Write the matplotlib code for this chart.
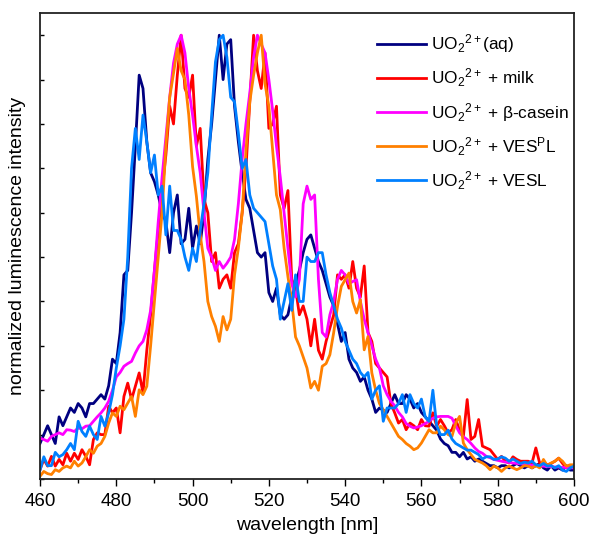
import numpy as np
import matplotlib
matplotlib.use("Agg")
import matplotlib.pyplot as plt
from matplotlib.ticker import MultipleLocator

plt.rcParams['font.family'] = ['Liberation Sans', 'DejaVu Sans']
plt.rcParams['mathtext.fontset'] = 'custom'
plt.rcParams['mathtext.rm'] = 'Liberation Sans'
plt.rcParams['mathtext.it'] = 'Liberation Sans:italic'
plt.rcParams['mathtext.bf'] = 'Liberation Sans:bold'

wavelength = np.arange(460, 601, 1)

aq = [0.08, 0.10, 0.12, 0.10, 0.08, 0.14, 0.12, 0.14, 0.16, 0.15,
      0.17, 0.16, 0.14, 0.17, 0.17, 0.18, 0.19, 0.18, 0.21, 0.27,
      0.26, 0.33, 0.46, 0.47, 0.60, 0.75, 0.91, 0.88, 0.76, 0.69,
      0.67, 0.64, 0.60, 0.58, 0.51, 0.60, 0.64, 0.53, 0.54, 0.61,
      0.52, 0.57, 0.53, 0.60, 0.72, 0.80, 0.90, 1.00, 0.90, 0.98,
      0.99, 0.84, 0.76, 0.69, 0.63, 0.61, 0.56, 0.51, 0.50, 0.51,
      0.42, 0.40, 0.43, 0.37, 0.36, 0.37, 0.41, 0.44, 0.47, 0.51,
      0.54, 0.55, 0.52, 0.49, 0.47, 0.44, 0.41, 0.39, 0.35, 0.31,
      0.33, 0.27, 0.25, 0.24, 0.22, 0.23, 0.20, 0.18, 0.15, 0.16,
      0.155, 0.15, 0.17, 0.19, 0.17, 0.17, 0.19, 0.18, 0.16, 0.17,
      0.15, 0.14, 0.13, 0.12, 0.11, 0.09, 0.08, 0.075, 0.06, 0.06,
      0.05, 0.06, 0.045, 0.05, 0.04, 0.045, 0.04, 0.035, 0.03, 0.03,
      0.025, 0.03, 0.03, 0.025, 0.03, 0.035, 0.03, 0.025, 0.03, 0.025,
      0.03, 0.035, 0.025, 0.02, 0.03, 0.02, 0.025, 0.02, 0.03, 0.02,
      0.02]

milk = [0.021, 0.044, 0.029, 0.051, 0.029, 0.044, 0.032, 0.058, 0.04, 0.058,
        0.044, 0.066, 0.051, 0.032, 0.089, 0.104, 0.10, 0.10, 0.164, 0.149,
        0.16, 0.104, 0.186, 0.216, 0.179, 0.209, 0.239, 0.194, 0.29, 0.37,
        0.47, 0.56, 0.65, 0.73, 0.84, 0.80, 0.91, 1.00, 0.88, 0.86,
        0.91, 0.75, 0.79, 0.63, 0.60, 0.49, 0.51, 0.43, 0.45, 0.46,
        0.43, 0.51, 0.53, 0.60, 0.70, 0.85, 1.00, 0.92, 0.88, 0.96,
        0.79, 0.80, 0.84, 0.64, 0.61, 0.65, 0.45, 0.43, 0.37, 0.39,
        0.36, 0.30, 0.36, 0.29, 0.27, 0.31, 0.34, 0.37, 0.46, 0.45,
        0.46, 0.43, 0.49, 0.43, 0.41, 0.48, 0.33, 0.31, 0.26, 0.25,
        0.24, 0.23, 0.17, 0.149, 0.126, 0.134, 0.111, 0.126, 0.12, 0.111,
        0.134, 0.12, 0.119, 0.149, 0.119, 0.134, 0.12, 0.104, 0.111, 0.134,
        0.11, 0.096, 0.179, 0.089, 0.096, 0.134, 0.074, 0.07, 0.066, 0.055,
        0.044, 0.051, 0.04, 0.036, 0.05, 0.044, 0.04, 0.04, 0.04, 0.036,
        0.07, 0.036, 0.036, 0.032, 0.035, 0.04, 0.047, 0.035, 0.025, 0.03,
        0.03]

casein = [0.092, 0.089, 0.085, 0.096, 0.10, 0.104, 0.10, 0.111, 0.11, 0.107,
          0.115, 0.113, 0.119, 0.12, 0.13, 0.14, 0.149, 0.16, 0.175, 0.20,
          0.23, 0.24, 0.254, 0.26, 0.265, 0.284, 0.30, 0.31, 0.336, 0.38,
          0.47, 0.58, 0.68, 0.77, 0.86, 0.937, 0.98, 1.00, 0.96, 0.88,
          0.82, 0.75, 0.69, 0.60, 0.52, 0.50, 0.47, 0.49, 0.475, 0.486,
          0.50, 0.54, 0.62, 0.72, 0.80, 0.87, 0.95, 1.00, 0.98, 0.96,
          0.90, 0.83, 0.75, 0.68, 0.60, 0.52, 0.44, 0.41, 0.45, 0.62,
          0.66, 0.63, 0.64, 0.45, 0.33, 0.32, 0.37, 0.40, 0.45, 0.47,
          0.46, 0.44, 0.445, 0.449, 0.40, 0.36, 0.33, 0.30, 0.27, 0.25,
          0.21, 0.19, 0.175, 0.165, 0.15, 0.14, 0.125, 0.119, 0.115, 0.117,
          0.12, 0.125, 0.13, 0.137, 0.14, 0.141, 0.141, 0.141, 0.137, 0.12,
          0.104, 0.095, 0.089, 0.08, 0.07, 0.062, 0.058, 0.051, 0.048, 0.044,
          0.042, 0.04, 0.038, 0.037, 0.036, 0.035, 0.034, 0.033, 0.032, 0.031,
          0.03, 0.029, 0.029, 0.028, 0.028, 0.027, 0.027, 0.026, 0.026, 0.025,
          0.025]

vespl = [0.006, 0.017, 0.012, 0.01, 0.021, 0.017, 0.025, 0.029, 0.025, 0.04,
         0.029, 0.036, 0.05, 0.066, 0.058, 0.074, 0.08, 0.096, 0.126, 0.149,
         0.141, 0.164, 0.156, 0.171, 0.186, 0.141, 0.201, 0.19, 0.209, 0.30,
         0.40, 0.50, 0.60, 0.75, 0.86, 0.914, 0.97, 0.92, 0.90, 0.82,
         0.704, 0.637, 0.55, 0.49, 0.40, 0.366, 0.344, 0.31, 0.366, 0.336,
         0.36, 0.46, 0.52, 0.60, 0.74, 0.85, 0.91, 0.96, 1.00, 0.89,
         0.84, 0.74, 0.64, 0.607, 0.52, 0.456, 0.40, 0.32, 0.30, 0.275,
         0.25, 0.205, 0.22, 0.20, 0.254, 0.26, 0.28, 0.33, 0.389, 0.434,
         0.449, 0.464, 0.40, 0.374, 0.404, 0.291, 0.321, 0.239, 0.20, 0.17,
         0.156, 0.141, 0.126, 0.111, 0.096, 0.089, 0.08, 0.074, 0.066, 0.07,
         0.081, 0.096, 0.111, 0.104, 0.104, 0.119, 0.111, 0.10, 0.096, 0.126,
         0.141, 0.081, 0.066, 0.055, 0.044, 0.04, 0.036, 0.03, 0.021, 0.029,
         0.025, 0.017, 0.025, 0.029, 0.025, 0.021, 0.025, 0.03, 0.029, 0.025,
         0.03, 0.025, 0.044, 0.03, 0.036, 0.04, 0.047, 0.04, 0.029, 0.032,
         0.032]

vesl = [0.02, 0.05, 0.03, 0.03, 0.06, 0.05, 0.055, 0.066, 0.08, 0.066,
        0.13, 0.107, 0.096, 0.119, 0.10, 0.089, 0.141, 0.119, 0.149, 0.19,
        0.25, 0.30, 0.36, 0.50, 0.70, 0.79, 0.72, 0.82, 0.76, 0.69,
        0.73, 0.64, 0.66, 0.55, 0.66, 0.56, 0.56, 0.54, 0.50, 0.47,
        0.52, 0.49, 0.56, 0.62, 0.69, 0.82, 0.94, 0.99, 1.00, 0.95,
        0.86, 0.85, 0.78, 0.70, 0.72, 0.64, 0.61, 0.60, 0.59, 0.58,
        0.53, 0.48, 0.45, 0.36, 0.40, 0.44, 0.38, 0.46, 0.40, 0.40,
        0.50, 0.49, 0.49, 0.51, 0.51, 0.46, 0.42, 0.39, 0.36, 0.34,
        0.31, 0.29, 0.27, 0.26, 0.24, 0.23, 0.24, 0.18, 0.20, 0.21,
        0.13, 0.16, 0.16, 0.16, 0.17, 0.19, 0.15, 0.19, 0.17, 0.16,
        0.18, 0.14, 0.13, 0.20, 0.12, 0.10, 0.10, 0.11, 0.09, 0.08,
        0.075, 0.07, 0.065, 0.065, 0.06, 0.055, 0.045, 0.05, 0.05, 0.044,
        0.045, 0.05, 0.047, 0.04, 0.045, 0.04, 0.035, 0.038, 0.036, 0.04,
        0.032, 0.03, 0.035, 0.029, 0.03, 0.025, 0.03, 0.02, 0.017, 0.025,
        0.029]

labels = [r'UO$_2{}^{2+}$(aq)', r'UO$_2{}^{2+}$ + milk', r'UO$_2{}^{2+}$ + β-casein',
          r'UO$_2{}^{2+}$ + VES$^{\mathrm{P}}$L', r'UO$_2{}^{2+}$ + VESL']
colors = ['#000080', '#ff0000', '#ff00ff', '#ff8000', '#0080ff']
series = [aq, milk, casein, vespl, vesl]

fig = plt.figure(figsize=(5.91, 5.38), dpi=100)
ax = fig.add_axes([0.0677, 0.1097, 0.9035, 0.8661])

for s, c, l in zip(series, colors, labels):
    ax.plot(wavelength, s, color=c, lw=2.0, label=l)

ax.set_xlim(460, 600)
ax.set_ylim(0, 1.05)
ax.xaxis.set_major_locator(MultipleLocator(20))
ax.xaxis.set_minor_locator(MultipleLocator(10))
ax.yaxis.set_major_locator(MultipleLocator(0.1))
ax.tick_params(axis='x', which='major', direction='out', length=5, width=1, labelsize=13.5, top=False, pad=5)
ax.tick_params(axis='x', which='minor', direction='out', length=3, width=1, top=False)
ax.tick_params(axis='y', which='major', direction='in', length=3, width=1, labelleft=False, right=False)
for sp in ax.spines.values():
    sp.set_linewidth(1.3)
    sp.set_color('#222222')

ax.set_xlabel('wavelength [nm]', fontsize=14, labelpad=5)
ax.set_ylabel('normalized luminescence intensity', fontsize=14, labelpad=10)

leg = ax.legend(loc='upper left', bbox_to_anchor=(0.631, 0.958), frameon=False, fontsize=12.4,
                handlelength=2.85, handletextpad=0.3, labelspacing=0.66, borderaxespad=0,
                borderpad=0)

fig.savefig('out.png', dpi=100)
